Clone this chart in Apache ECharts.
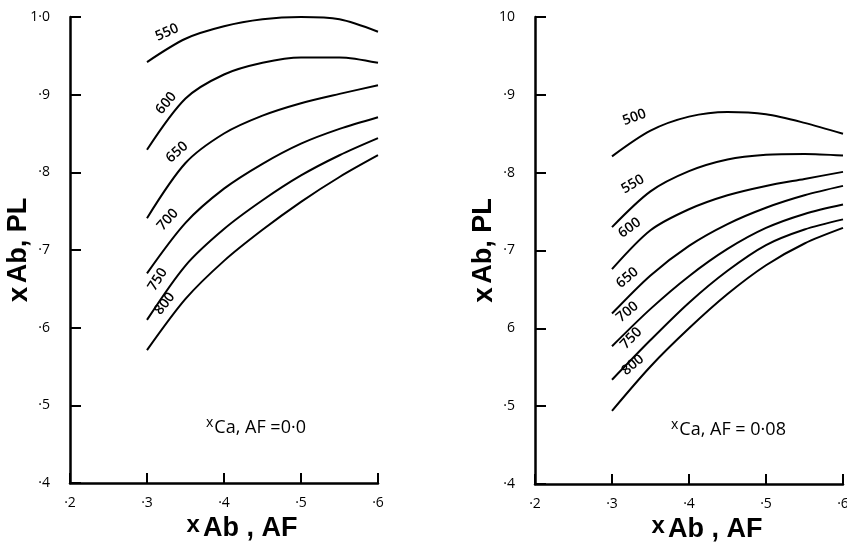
<!DOCTYPE html>
<html>
<head>
<meta charset="utf-8">
<script src="https://cdn.jsdelivr.net/npm/echarts@6/dist/echarts.min.js"></script>
<style>
  html, body { margin: 0; padding: 0; background: #fff; }
  #main { width: 847px; height: 542px; }
</style>
</head>
<body>
<div id="main"></div>
<script>
"use strict";

// x positions shared by every contour
var xAbAF = [0.30, 0.35, 0.40, 0.45, 0.50, 0.55, 0.60];

// left panel, xCa,AF = 0.0
var leftTemps = ["550", "600", "650", "700", "750", "800"];
var left550 = [0.942, 0.972, 0.988, 0.997, 1.000, 0.997, 0.981];
var left600 = [0.829, 0.895, 0.926, 0.941, 0.948, 0.948, 0.941];
var left650 = [0.741, 0.812, 0.850, 0.873, 0.889, 0.901, 0.912];
var left700 = [0.670, 0.735, 0.779, 0.811, 0.837, 0.856, 0.871];
var left750 = [0.610, 0.680, 0.727, 0.764, 0.796, 0.822, 0.844];
var left800 = [0.571, 0.637, 0.686, 0.726, 0.762, 0.794, 0.822];
// contour label anchors (x, y, angle)
var leftLabels = [
    [0.326, 0.980, 24], [0.325, 0.889, 50], [0.339, 0.826, 42],
    [0.327, 0.739, 48], [0.314, 0.662, 58], [0.323, 0.631, 52]
];

// right panel, xCa,AF = 0.08
var rightTemps = ["500", "550", "600", "650", "700", "750", "800"];
var right500 = [0.821, 0.854, 0.872, 0.878, 0.875, 0.864, 0.850];
var right550 = [0.730, 0.776, 0.802, 0.817, 0.823, 0.824, 0.822];
var right600 = [0.676, 0.726, 0.753, 0.771, 0.783, 0.792, 0.801];
var right650 = [0.619, 0.668, 0.706, 0.734, 0.755, 0.771, 0.783];
var right700 = [0.577, 0.625, 0.667, 0.702, 0.729, 0.747, 0.759];
var right750 = [0.534, 0.585, 0.633, 0.674, 0.707, 0.727, 0.740];
var right800 = [0.494, 0.551, 0.600, 0.644, 0.681, 0.709, 0.729];
var rightLabels = [
    [0.329, 0.871, 20], [0.327, 0.785, 30], [0.323, 0.729, 36],
    [0.320, 0.665, 40], [0.320, 0.621, 40], [0.325, 0.587, 46], [0.327, 0.553, 40]
];

// tick labels as printed
var xTickText = {2: "·2", 3: "·3", 4: "·4", 5: "·5", 6: "·6"};
var leftYTickText = {4: "·4", 5: "·5", 6: "·6", 7: "·7", 8: "·8", 9: "·9", 10: "1·0"};
var rightYTickText = {4: "·4", 5: "·5", 6: "6", 7: "·7", 8: "·8", 9: "·9", 10: "10"};

var INK = "#000";
var leftLines = [left550, left600, left650, left700, left750, left800];
var rightLines = [right500, right550, right600, right650, right700, right750, right800];

function pairs(ys) {
    return xAbAF.map(function (x, i) { return [x, ys[i]]; });
}

function makeX(idx) {
    return {
        gridIndex: idx, type: "value", min: 0.2, max: 0.6, interval: 0.1,
        axisLine: {lineStyle: {color: INK, width: 2.5}},
        axisTick: {inside: true, length: 10, lineStyle: {color: INK, width: 2}},
        axisLabel: {
            color: INK, fontSize: 14, fontFamily: "Open Sans", margin: 13,
            formatter: function (v) { return xTickText[Math.round(v * 10)]; }
        },
        splitLine: {show: false},
        name: "{x|x}{t|Ab , AF}", nameLocation: "middle", nameGap: 30, nameMoveOverlap: false,
        nameTextStyle: {
            padding: [0, 0, 0, 36],
            rich: {
                x: {fontSize: 24, fontWeight: "bold", fontFamily: "Liberation Sans", color: INK, padding: [0, 3, 8, 0]},
                t: {fontSize: 27, fontWeight: "bold", fontFamily: "Liberation Sans", color: INK}
            }
        }
    };
}

function makeY(idx, texts) {
    return {
        gridIndex: idx, type: "value", min: 0.4, max: 1.0, interval: 0.1,
        axisLine: {show: true, lineStyle: {color: INK, width: 2.5}},
        axisTick: {show: true, inside: true, length: 11, lineStyle: {color: INK, width: 2}},
        axisLabel: {
            color: INK, fontSize: 14, fontFamily: "Open Sans", margin: 20,
            formatter: function (v) { return texts[Math.round(v * 10)]; }
        },
        splitLine: {show: false},
        name: "{x|x} {t|Ab, PL}", nameLocation: "middle", nameGap: 37, nameRotate: 90, nameMoveOverlap: false,
        nameTextStyle: {
            rich: {
                x: {fontSize: 28, fontWeight: "bold", fontFamily: "Liberation Sans", color: INK},
                t: {fontSize: 27, fontWeight: "bold", fontFamily: "Liberation Sans", color: INK}
            }
        }
    };
}

var series = [];
function curve(idx, ys) {
    return {type: "line", xAxisIndex: idx, yAxisIndex: idx, data: pairs(ys),
        smooth: 0.3, showSymbol: false,
        lineStyle: {color: INK, width: 2}, silent: true};
}
leftLines.forEach(function (ys) { series.push(curve(0, ys)); });
rightLines.forEach(function (ys) { series.push(curve(1, ys)); });

function labelSeries(idx, temps, anchors) {
    return {
        type: "scatter", xAxisIndex: idx, yAxisIndex: idx, symbolSize: 0, silent: true,
        data: anchors.map(function (a, i) {
            return {
                value: [a[0], a[1]], name: temps[i],
                label: {rotate: a[2]}
            };
        }),
        label: {
            show: true, position: "inside", formatter: "{b}", opacity: 1,
            color: INK, fontSize: 14, fontWeight: 600, fontFamily: "Open Sans", textBorderWidth: 0
        }
    };
}
series.push(labelSeries(0, leftTemps, leftLabels));
series.push(labelSeries(1, rightTemps, rightLabels));

function noteText(left, top, value) {
    return {
        type: "text", left: left, top: top,
        style: {
            text: "{x|x}{t|Ca, AF =" + value + "}",
            rich: {
                x: {fontSize: 14, fontFamily: "Open Sans", fill: INK, padding: [0, 1, 10, 0]},
                t: {fontSize: 18, fontFamily: "Open Sans", fill: INK}
            }
        }
    };
}

var chart = echarts.init(document.getElementById("main"), null, {renderer: "canvas"});
chart.setOption({
    backgroundColor: "#fff",
    animation: false,
    grid: [
        {left: 70, right: 469, top: 17, bottom: 59, containLabel: false, outerBoundsMode: "none"},
        {left: 535, right: 4, top: 17, bottom: 58, containLabel: false, outerBoundsMode: "none"}
    ],
    xAxis: [makeX(0), makeX(1)],
    yAxis: [makeY(0, leftYTickText), makeY(1, rightYTickText)],
    series: series,
    graphic: [
        noteText(206, 416, "0·0"),
        noteText(671, 418, " 0·08")
    ]
});
</script>
</body>
</html>
